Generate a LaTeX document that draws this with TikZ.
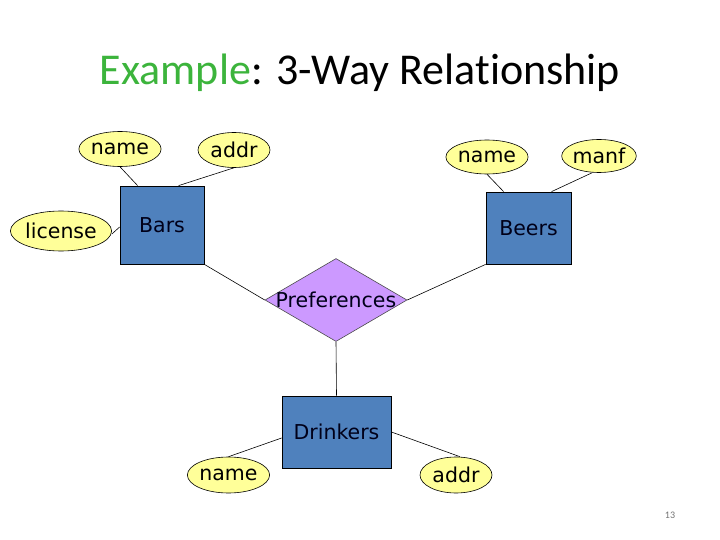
\documentclass[tikz,border=0pt]{standalone}
\usepackage{fontspec}
\setmainfont{DejaVu Sans}
\newfontfamily\titlefont[Ligatures=NoCommon]{Carlito}
\usetikzlibrary{shapes.geometric,calc}
\definecolor{entblue}{HTML}{4F81BD}
\definecolor{attryellow}{HTML}{FFFF99}
\definecolor{rellav}{HTML}{CC99FF}
\definecolor{titlegreen}{HTML}{3CB43C}
\tikzset{
  lbl/.style={font=\fontsize{20.5}{24}\selectfont, inner sep=0pt},
  entity/.style={draw=black, line width=0.8pt, fill=entblue, rectangle, inner sep=0pt,
    lbl, text=black!90!blue},
  attr/.style={draw=black, line width=0.6pt, fill=attryellow, ellipse, inner sep=0pt, lbl},
  rel/.style={draw=black!70, line width=0.6pt, fill=rellav, diamond, inner sep=0pt,
    minimum width=142pt, minimum height=83pt},
  conn/.style={draw=black, line width=0.6pt}
}
\begin{document}
\begin{tikzpicture}[x=1pt,y=-1pt]
\useasboundingbox (0,0) rectangle (720,540);
% title
\node[font=\titlefont\fontsize{44}{50}\selectfont, anchor=base] (title) at (360,85)
  {\textcolor{titlegreen}{Example}: 3-Way Relat\kern0pt ionship};
% entities
\node[entity, minimum width=84pt, minimum height=78pt] (bars) at (162,225) {Bars};
\node[entity, minimum width=85pt, minimum height=72pt] (beers) at (528.5,228) {Beers};
\node[entity, minimum width=109pt, minimum height=72pt] (drinkers) at (336.5,432) {Drinkers};
\node[rel] (pref) at (336,300) {};
\node[lbl, text=black!90!blue] (preft) at (336,300) {Preferences};
% attributes
\node[attr, minimum width=72pt, minimum height=35pt] (bname) at (120,149) {name};
\node[attr, minimum width=72pt, minimum height=35pt] (baddr) at (234,150) {addr};
\node[attr, minimum width=71pt, minimum height=40pt] (blic) at (61,231) {license};
\node[attr, minimum width=72pt, minimum height=34pt] (bename) at (487,157) {name};
\node[attr, minimum width=70pt, minimum height=33pt] (bemanf) at (599,156) {manf};
\node[attr, minimum width=71pt, minimum height=36pt] (dname) at (228.5,475) {name};
\node[attr, minimum width=72pt, minimum height=36pt] (daddr) at (456,475) {addr};
% connectors
\draw[conn] (bname.south) -- ($(bars.north west)+(18,0)$);
\draw[conn] (baddr.south) -- ($(bars.north west)+(59,0)$);
\draw[conn] ($(blic.east)+(0,3)$) -- ($(bars.west)+(0,2)$);
\draw[conn] (bename.south) -- ($(beers.north west)+(18,0)$);
\draw[conn] ($(bemanf.south)+(-7,0)$) -- ($(beers.north west)+(66,0)$);
\draw[conn] (bars.south east) -- (pref.west);
\draw[conn] (beers.south west) -- (pref.east);
\draw[conn] (pref.south) -- (drinkers.north);
\draw[conn] ($(drinkers.west)+(0,6)$) -- (dname.north);
\draw[conn] (drinkers.east) -- ($(daddr.north)+(4,0)$);
% page number
\node[font=\titlefont\fontsize{10}{12}\selectfont, text=black!55] (pnum) at (670,515) {13};
\end{tikzpicture}
\end{document}
